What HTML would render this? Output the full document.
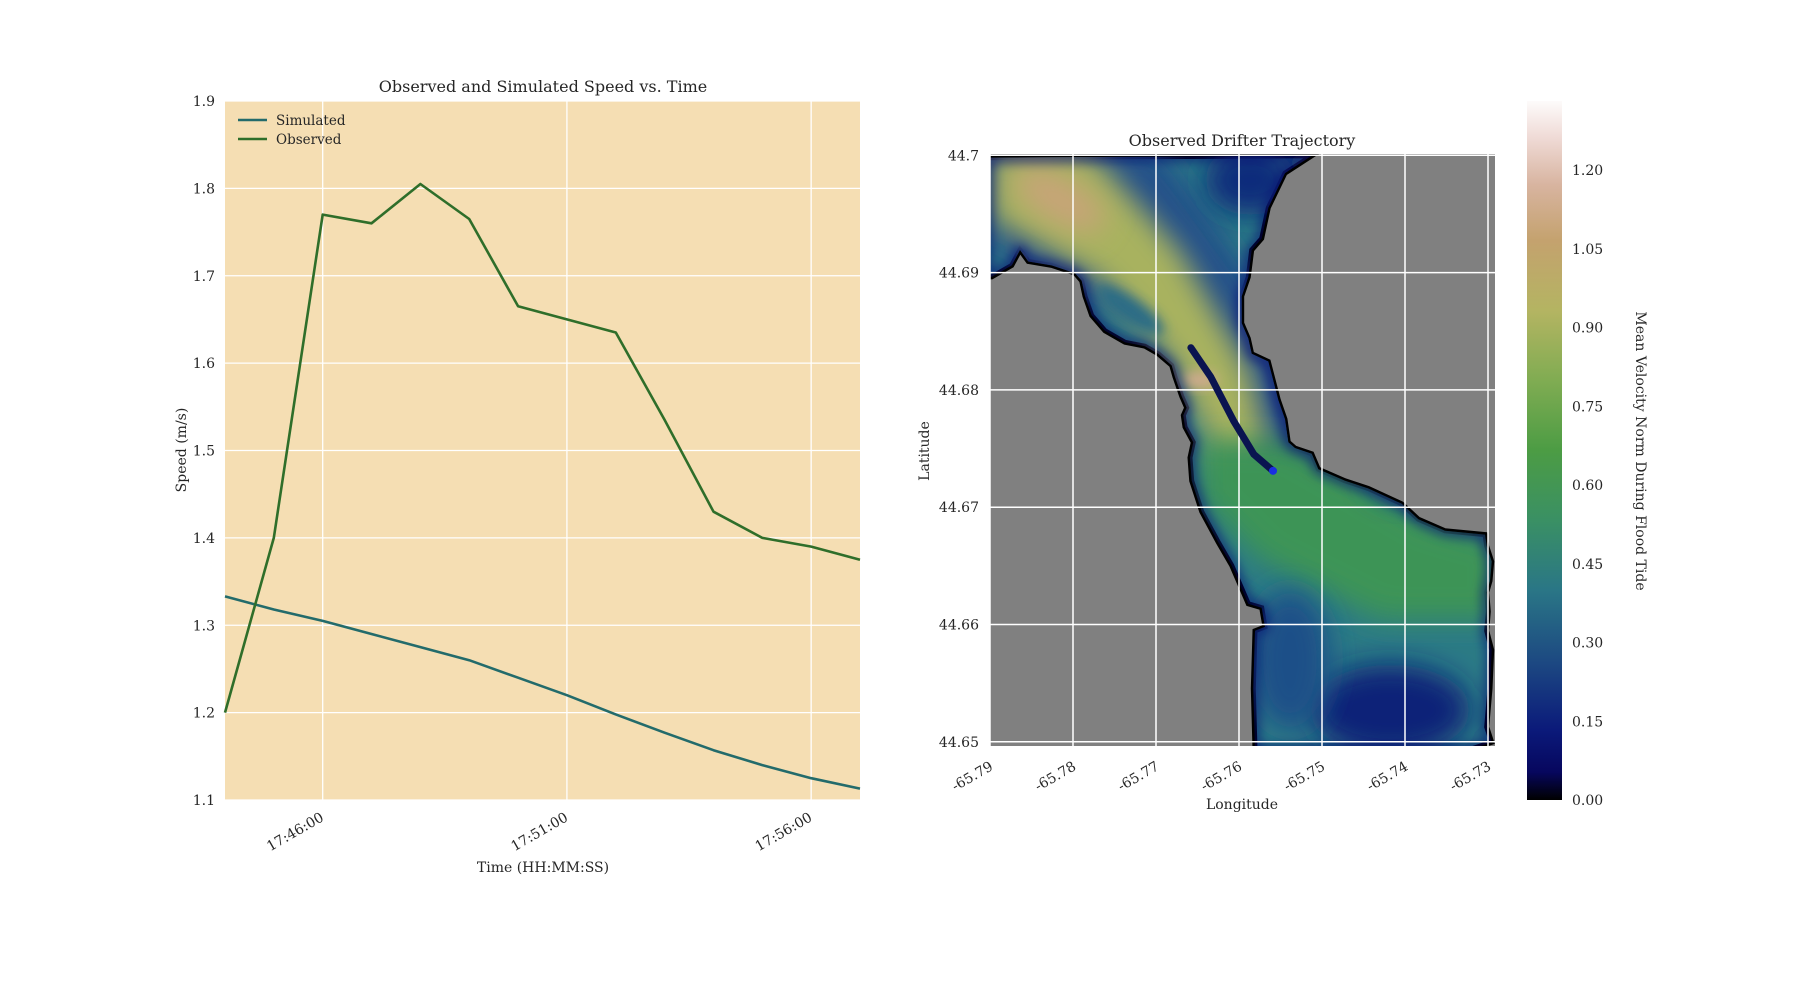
<!DOCTYPE html>
<html><head><meta charset="utf-8"><style>
html,body{margin:0;padding:0;background:#fff}
svg text{font-family:"DejaVu Serif","Liberation Serif",serif;fill:#262626}
</style></head><body>
<svg id="fig" width="1800" height="1000" viewBox="0 0 1800 1000" xmlns="http://www.w3.org/2000/svg">
<defs>
<linearGradient id="cmap" x1="0" y1="1" x2="0" y2="0">
<stop offset="0" stop-color="#000000"/><stop offset="0.04" stop-color="#07075e"/><stop offset="0.1" stop-color="#0b1a7a"/>
<stop offset="0.2" stop-color="#1d4a82"/><stop offset="0.3" stop-color="#2a7686"/><stop offset="0.4" stop-color="#3a9064"/>
<stop offset="0.5" stop-color="#4c9c44"/><stop offset="0.6" stop-color="#80ac52"/><stop offset="0.7" stop-color="#b4b462"/>
<stop offset="0.8" stop-color="#c4a26e"/><stop offset="0.88" stop-color="#d8b4a0"/><stop offset="0.95" stop-color="#f0dcd8"/><stop offset="1" stop-color="#fdfbfb"/>
</linearGradient>
<clipPath id="waterClip"><path id="waterPathClip" d=""/></clipPath>
<clipPath id="mapAxClip"><rect x="989" y="153" width="507" height="594"/></clipPath>
<filter id="blur" x="-50%" y="-50%" width="200%" height="200%"><feGaussianBlur stdDeviation="14"/></filter>
<filter id="blur2" x="-50%" y="-50%" width="200%" height="200%"><feGaussianBlur stdDeviation="6"/></filter>
</defs>
<g id="left"></g>
<g id="right"></g>
<g id="cbar"></g>
</svg>
<script>
const NS="http://www.w3.org/2000/svg";
// ---- speed chart data ----
const timeLabels=["17:44:00","17:45:00","17:46:00","17:47:00","17:48:00","17:49:00","17:50:00","17:51:00","17:52:00","17:53:00","17:54:00","17:55:00","17:56:00","17:57:00"];
const observedSpeed=[1.20,1.40,1.77,1.76,1.805,1.765,1.665,1.65,1.635,1.535,1.43,1.40,1.39,1.375];
const simulatedSpeed=[1.333,1.318,1.305,1.29,1.275,1.26,1.24,1.22,1.198,1.177,1.157,1.14,1.125,1.113];
const speedTicks=[1.1,1.2,1.3,1.4,1.5,1.6,1.7,1.8,1.9];
const timeTickLabels=["17:46:00","17:51:00","17:56:00"];
// ---- map data ----
const trackLon=[-65.7658,-65.7634,-65.7606,-65.7582,-65.7559];
const trackLat=[44.6836,44.6811,44.6773,44.6745,44.6731];
const lonTicks=[-65.79,-65.78,-65.77,-65.76,-65.75,-65.74,-65.73];
const latTicks=[44.65,44.66,44.67,44.68,44.69,44.7];
const cbarTicks=[0,0.15,0.30,0.45,0.60,0.75,0.90,1.05,1.20];

function el(t,a,p){const e=document.createElementNS(NS,t);for(const k in a)e.setAttribute(k,a[k]);p.appendChild(e);return e;}
function secs(s){const p=s.split(":").map(Number);return p[0]*3600+p[1]*60+p[2];}

// ===== Left chart =====
const L=document.getElementById('left');
const ax={l:225,r:860,t:101,b:800};
const t0=secs("17:44:00"), t1=secs("17:57:00");
const xT=s=>ax.l+(s-t0)/(t1-t0)*(ax.r-ax.l);
const yS=v=>ax.b-(v-1.1)/(1.9-1.1)*(ax.b-ax.t);
let r=el('rect',{x:ax.l,y:ax.t,width:ax.r-ax.l,height:ax.b-ax.t,fill:'#f5deb3'},L);

speedTicks.forEach(v=>{
 let g=el('line',{x1:ax.l,x2:ax.r,y1:yS(v),y2:yS(v),stroke:'#fff','stroke-width':1.3},L);
 
 let t=el('text',{x:ax.l-10,y:yS(v)+5,'text-anchor':'end','font-size':14},L);t.textContent=v.toFixed(1);
 
});
timeTickLabels.forEach(s=>{
 const x=xT(secs(s));
 let g=el('line',{x1:x,x2:x,y1:ax.t,y2:ax.b,stroke:'#fff','stroke-width':1.3},L);
 
 let t=el('text',{x:x+2,y:ax.b+20,'text-anchor':'end','font-size':14,transform:`rotate(-30 ${x+2} ${ax.b+20})`},L);t.textContent=s;
 
});
function series(vals,color,name){
 const d=vals.map((v,i)=>(i?'L':'M')+xT(secs(timeLabels[i])).toFixed(1)+' '+yS(v).toFixed(1)).join(' ');
 let p=el('path',{d,fill:'none',stroke:color,'stroke-width':2.6,'stroke-linejoin':'round'},L);
 
}
series(simulatedSpeed,'#236b6b','simulated-line');
series(observedSpeed,'#2f6e2a','observed-line');
let tt=el('text',{x:543,y:92,'text-anchor':'middle','font-size':16},L);tt.textContent='Observed and Simulated Speed vs. Time';

let yl=el('text',{x:186,y:450,'text-anchor':'middle','font-size':14,transform:'rotate(-90 186 450)'},L);yl.textContent='Speed (m/s)';

let xl=el('text',{x:543,y:872,'text-anchor':'middle','font-size':14},L);xl.textContent='Time (HH:MM:SS)';

[['Simulated','#236b6b',120],['Observed','#2f6e2a',139]].forEach(([n,c,y])=>{
 let g=el('g',{},L);
 el('line',{x1:238,x2:267,y1:y,y2:y,stroke:c,'stroke-width':2.6},g);
 let t=el('text',{x:276,y:y+5,'font-size':13.5},g);t.textContent=n;
});

// ===== Right map =====
const R=document.getElementById('right');
const m={l:989,r:1496,t:153,b:747};
const xLon=v=>990+(v+65.79)/0.01*83;
const yLat=v=>155.3-(v-44.7)/0.01*117.3;
el('rect',{x:m.l,y:m.t,width:m.r-m.l,height:m.b-m.t,fill:'#808080'},R);
// water outline (shape in zoomed-reference pixel space, mapped by transform)
const outline=[[10,20],[980,15],[900,60],[850,150],[830,230],[800,260],[790,330],[770,380],[770,450],[790,490],[800,530],[850,550],[865,600],[880,650],[900,700],[910,760],[930,775],[980,790],[1000,830],[1080,860],[1150,880],[1250,920],[1300,960],[1380,990],[1500,1000],[1505,1030],[1520,1070],[1515,1120],[1505,1150],[1510,1200],[1505,1250],[1520,1300],[1515,1400],[1505,1500],[1520,1540],[1450,1560],[810,1560],[805,1400],[810,1250],[840,1240],[830,1190],[790,1180],[770,1140],[740,1080],[700,1020],[650,940],[620,860],[615,800],[625,760],[600,720],[595,690],[605,670],[590,640],[570,590],[560,560],[520,530],[480,510],[420,500],[360,470],[320,430],[300,380],[290,340],[270,320],[200,300],[130,290],[105,260],[80,300],[20,330],[5,330]];
const wd='M'+outline.map(p=>(985+p[0]/3).toFixed(1)+' '+(150+p[1]/2.6).toFixed(1)).join(' L')+' Z';
document.getElementById('waterPathClip').setAttribute('d',wd);
const W=el('g',{'clip-path':'url(#mapAxClip)'},R);
let edge=el('path',{d:wd,fill:'#2b7a86',stroke:'#000','stroke-width':5},W);

const F=el('g',{'clip-path':'url(#waterClip)'},W);
const blobs=[
 ['path',{d:'M990 150 L1160 150 L1290 330 L1320 470 L1250 480 L1160 330 L990 250 Z',fill:'#23508a',filter:'url(#blur)'}],
 ['path',{d:'M990 150 L1090 150 L1180 250 L1250 370 L1270 450 L1220 470 L1170 360 L1100 280 L990 220 Z',fill:'#a8b25e',filter:'url(#blur)'}],
 ['ellipse',{cx:1060,cy:200,rx:50,ry:22,fill:'#c8a478',filter:'url(#blur)',transform:'rotate(30 1060 200)'}],
 ['ellipse',{cx:1200,cy:380,rx:18,ry:8,fill:'#d0aa90',filter:'url(#blur2)'}],
 ['ellipse',{cx:1130,cy:310,rx:40,ry:12,fill:'#2a6c86',filter:'url(#blur2)',transform:'rotate(35 1130 310)'}],
 ['path',{d:'M1200 440 L1290 440 L1430 520 L1500 540 L1500 620 L1380 620 L1260 560 L1200 500 Z',fill:'#3e9456',filter:'url(#blur)'}],
 ['ellipse',{cx:1390,cy:710,rx:80,ry:45,fill:'#0f2478',filter:'url(#blur)'}],
 ['ellipse',{cx:1290,cy:660,rx:40,ry:70,fill:'#1d4f88',filter:'url(#blur)'}],
 ['ellipse',{cx:1440,cy:480,rx:70,ry:22,fill:'#1d4f88',filter:'url(#blur)'}],
 ['ellipse',{cx:1250,cy:180,rx:45,ry:35,fill:'#0f2c7c',filter:'url(#blur)'}]
];
blobs.forEach(([t,a])=>el(t,a,F));
el('path',{d:wd,fill:'none',stroke:'#0a1070','stroke-width':6,filter:'url(#blur2)'},F);
lonTicks.forEach(v=>{
 const x=xLon(v);
 let g=el('line',{x1:x,x2:x,y1:m.t,y2:m.b,stroke:'#fff','stroke-width':1.5},R);
 
 let t=el('text',{x:x+4,y:m.b+22,'text-anchor':'end','font-size':14,transform:`rotate(-30 ${x+4} ${m.b+22})`},R);t.textContent=v.toFixed(2);
 
});
latTicks.forEach(v=>{
 const y=yLat(v);
 let g=el('line',{x1:m.l,x2:m.r,y1:y,y2:y,stroke:'#fff','stroke-width':1.5},R);
 
 let t=el('text',{x:m.l-10,y:y+5,'text-anchor':'end','font-size':14},R);t.textContent=(v===44.7?'44.7':v.toFixed(2));
 
});
el('rect',{x:m.l,y:m.t,width:m.r-m.l,height:m.b-m.t,fill:'none',stroke:'#fff','stroke-width':2},R);
const td=trackLon.map((v,i)=>(i?'L':'M')+xLon(v).toFixed(1)+' '+yLat(trackLat[i]).toFixed(1)).join(' ');
let tr=el('path',{d:td,fill:'none',stroke:'#0a1450','stroke-width':7,'stroke-linecap':'round','stroke-linejoin':'round'},R);

let dot=el('circle',{cx:xLon(trackLon[trackLon.length-1]),cy:yLat(trackLat[trackLat.length-1]),r:4,fill:'#1a2ee0'},R);

let mt=el('text',{x:1242,y:146,'text-anchor':'middle','font-size':16},R);mt.textContent='Observed Drifter Trajectory';

let lat=el('text',{x:929,y:451,'text-anchor':'middle','font-size':14,transform:'rotate(-90 929 451)'},R);lat.textContent='Latitude';

let lon=el('text',{x:1242,y:809,'text-anchor':'middle','font-size':14},R);lon.textContent='Longitude';


// ===== Colorbar =====
const C=document.getElementById('cbar');
const cb={l:1527,r:1562,t:101,b:800,max:1.3316};
const yC=v=>cb.b-v/cb.max*(cb.b-cb.t);
let cr=el('rect',{x:cb.l,y:cb.t,width:cb.r-cb.l,height:cb.b-cb.t,fill:'url(#cmap)'},C);

cbarTicks.forEach(v=>{
 let t=el('text',{x:1572,y:yC(v)+5,'font-size':14},C);t.textContent=v.toFixed(2);
 
});
let cl=el('text',{x:1636,y:451,'text-anchor':'middle','font-size':14,transform:'rotate(90 1636 451)'},C);cl.textContent='Mean Velocity Norm During Flood Tide';

</script>
</body></html>
